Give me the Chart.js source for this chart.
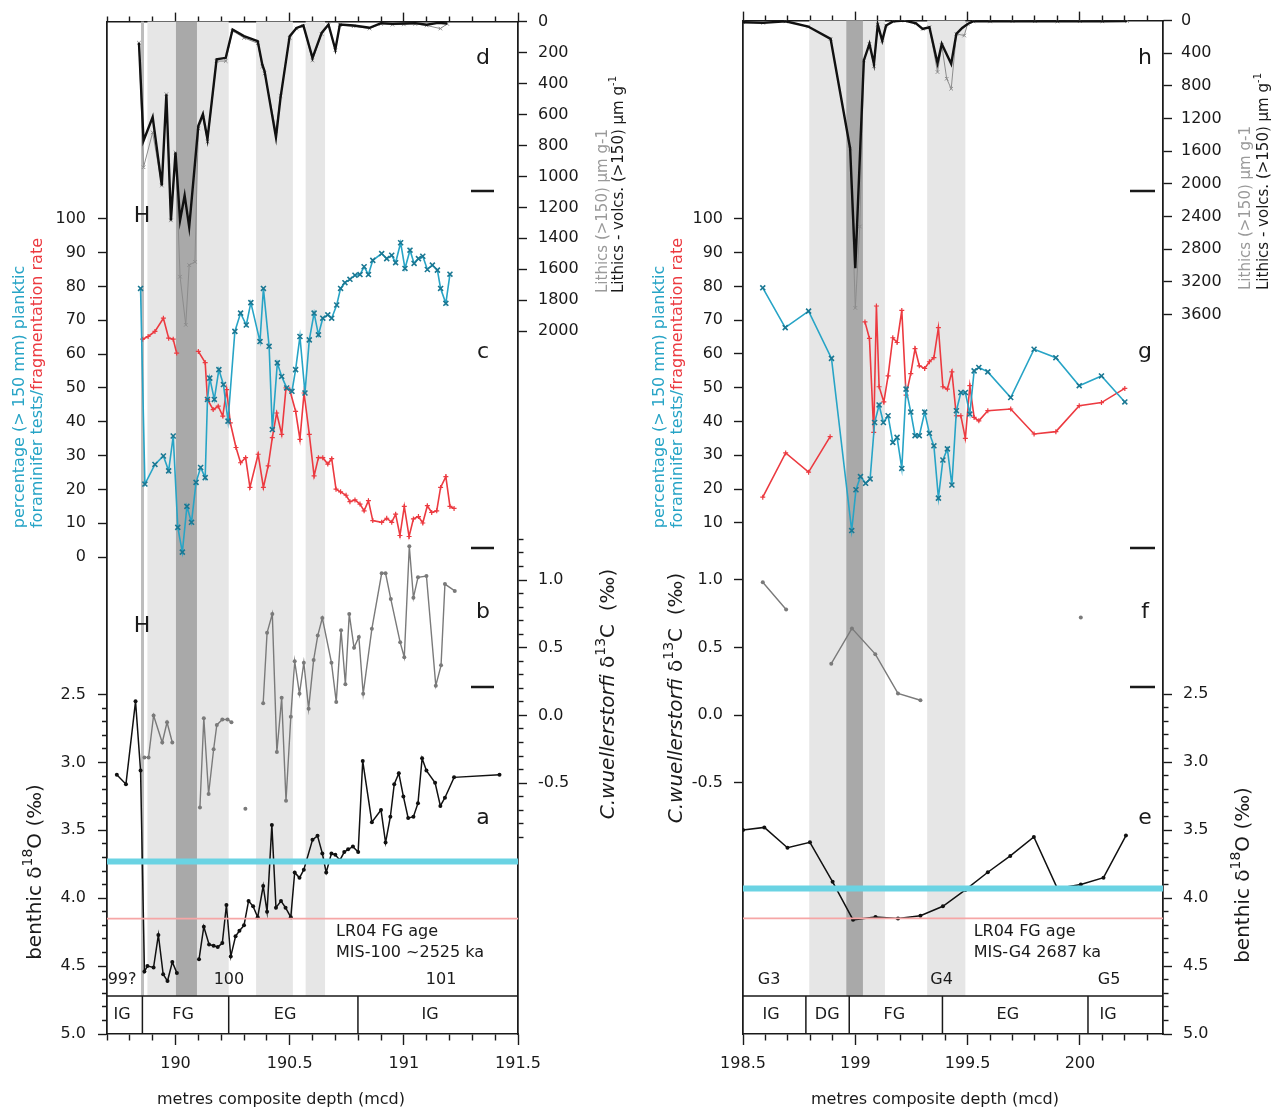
<!DOCTYPE html>
<html>
<head>
<meta charset="utf-8">
<script src="https://cdn.jsdelivr.net/npm/chart.js@4.4.1/dist/chart.umd.min.js"></script>
<style>
  html, body { margin: 0; padding: 0; background: #fff; }
  #wrap { position: relative; width: 1283px; height: 1112px; }
  canvas { position: absolute; top: 0; }
  #left { left: 0; }
  #right { left: 640px; }
</style>
</head>
<body>
<div id="wrap">
  <canvas id="left" width="640" height="1112"></canvas>
  <canvas id="right" width="643" height="1112"></canvas>
</div>
<script>
// ---------- MIS-100 section (left) ----------
const lithDepthL = [189.84, 189.86, 189.90, 189.94, 189.96, 189.98, 190.00, 190.02, 190.04, 190.06, 190.10, 190.12, 190.14, 190.18, 190.22, 190.25, 190.30, 190.36, 190.38, 190.39, 190.44, 190.46, 190.50, 190.53, 190.56, 190.60, 190.64, 190.67, 190.70, 190.72, 190.78, 190.85, 190.90, 190.95, 191.00, 191.05, 191.10, 191.15, 191.19]
const lithVolcL = [137, 770, 617, 1059, 469, 1284, 845, 1284, 1123, 1327, 673, 598, 759, 244, 234, 51, 94, 126, 277, 320, 748, 491, 94, 41, 24, 234, 73, 19, 180, 19, 25, 40, 10, 15, 12, 10, 20, 8, 12]
const lithTotalDepthL = [189.84, 189.86, 189.90, 189.94, 189.96, 189.98, 190.00, 190.02, 190.045, 190.06, 190.085, 190.10, 190.12, 190.14, 190.18, 190.22, 190.25, 190.30, 190.36, 190.38, 190.39, 190.44, 190.46, 190.50, 190.53, 190.56, 190.60, 190.64, 190.67, 190.70, 190.72, 190.78, 190.85, 190.90, 190.95, 191.00, 191.05, 191.10, 191.16, 191.19]
const lithTotalL = [137, 941, 716, 1059, 469, 1284, 845, 1648, 1959, 1573, 1552, 690, 620, 775, 255, 255, 60, 105, 140, 290, 335, 705, 480, 105, 45, 30, 250, 80, 25, 185, 22, 30, 45, 15, 20, 18, 15, 25, 45, 15]

const planktDepthL = [189.847, 189.866, 189.91, 189.947, 189.97, 189.99, 190.01, 190.03, 190.05, 190.07, 190.09, 190.11, 190.13, 190.14, 190.15, 190.17, 190.19, 190.21, 190.23, 190.26, 190.285, 190.31, 190.33, 190.37, 190.385, 190.41, 190.424, 190.446, 190.465, 190.487, 190.51, 190.526, 190.545, 190.567, 190.586, 190.607, 190.626, 190.645, 190.667, 190.684, 190.706, 190.723, 190.742, 190.764, 190.786, 190.808, 190.826, 190.845, 190.864, 190.903, 190.925, 190.947, 190.964, 190.986, 191.005, 191.027, 191.045, 191.064, 191.083, 191.103, 191.125, 191.147, 191.161, 191.184, 191.202]
const planktL = [79.4, 21.6, 27.4, 29.9, 25.5, 35.8, 8.8, 1.5, 15.0, 10.3, 22.1, 26.5, 23.5, 46.6, 52.9, 46.6, 55.4, 51.0, 40.2, 66.7, 72.1, 68.6, 75.2, 63.7, 79.4, 62.3, 37.7, 57.4, 53.4, 50.0, 49.0, 55.4, 65.2, 48.5, 64.2, 72.1, 65.7, 70.6, 71.6, 70.6, 74.5, 79.4, 81.1, 82.1, 83.3, 83.5, 85.8, 83.5, 87.7, 89.7, 88.2, 89.2, 87.0, 92.9, 85.3, 90.7, 86.8, 88.2, 88.9, 85.0, 86.3, 84.8, 79.4, 75.0, 83.6]

const fragDepthL = [189.856, 189.88, 189.91, 189.947, 189.97, 189.99, 190.005, 190.05, 190.10, 190.13, 190.14, 190.165, 190.187, 190.207, 190.224, 190.24, 190.265, 190.285, 190.307, 190.326, 190.362, 190.385, 190.406, 190.424, 190.443, 190.465, 190.484, 190.50, 190.526, 190.545, 190.563, 190.586, 190.607, 190.626, 190.645, 190.667, 190.684, 190.703, 190.723, 190.747, 190.764, 190.786, 190.808, 190.826, 190.845, 190.864, 190.903, 190.925, 190.947, 190.964, 190.983, 191.002, 191.023, 191.042, 191.064, 191.083, 191.103, 191.122, 191.144, 191.161, 191.184, 191.202, 191.22]
const fragL = [64.4, 65.2, 66.7, 70.6, 64.7, 64.4, 60.3, null, 60.8, 57.5, 46.6, 43.6, 44.6, 41.7, 49.5, 39.7, 32.4, 27.9, 29.4, 20.6, 30.4, 20.6, 27.0, 35.3, 42.6, 36.3, 50.0, 49.5, 43.1, 34.8, 48.5, 36.3, 24.0, 29.4, 29.4, 27.5, 29.1, 20.1, 19.3, 18.3, 16.4, 16.9, 15.7, 13.7, 16.7, 10.8, 10.3, 11.5, 10.3, 12.7, 6.4, 15.0, 6.1, 11.3, 12.0, 10.1, 15.2, 13.2, 13.7, 20.6, 23.8, 15.0, 14.4]

const c13DepthL = [189.864, 189.882, 189.904, 189.942, 189.963, 189.986, 190.05, 190.107, 190.124, 190.145, 190.167, 190.181, 190.205, 190.228, 190.245, 190.27, 190.306, 190.34, 190.384, 190.401, 190.424, 190.444, 190.465, 190.484, 190.505, 190.522, 190.543, 190.562, 190.583, 190.605, 190.623, 190.643, 190.683, 190.704, 190.725, 190.744, 190.761, 190.782, 190.803, 190.822, 190.86, 190.903, 190.92, 190.943, 190.984, 191.002, 191.024, 191.042, 191.062, 191.099, 191.14, 191.163, 191.18, 191.223]
const c13L = [-0.31, -0.31, 0.0, -0.2, -0.05, -0.2, null, -0.68, -0.02, -0.58, -0.25, -0.07, -0.03, -0.03, -0.05, null, -0.69, null, 0.09, 0.61, 0.75, -0.27, 0.13, -0.63, -0.01, 0.40, 0.16, 0.39, 0.05, 0.41, 0.59, 0.72, 0.39, 0.10, 0.63, 0.23, 0.75, 0.50, 0.58, 0.16, 0.64, 1.05, 1.05, 0.86, 0.54, 0.43, 1.25, 0.87, 1.02, 1.03, 0.22, 0.37, 0.97, 0.92]

const o18DepthL = [189.743, 189.783, 189.825, 189.847, 189.864, 189.877, 189.904, 189.925, 189.946, 189.965, 189.986, 190.006, 190.05, 190.103, 190.124, 190.147, 190.167, 190.185, 190.205, 190.223, 190.242, 190.263, 190.28, 190.30, 190.32, 190.34, 190.36, 190.384, 190.401, 190.422, 190.44, 190.462, 190.482, 190.505, 190.522, 190.543, 190.562, 190.60, 190.622, 190.643, 190.66, 190.683, 190.70, 190.72, 190.739, 190.756, 190.777, 190.80, 190.82, 190.86, 190.90, 190.92, 190.941, 190.958, 190.978, 190.998, 191.019, 191.042, 191.062, 191.08, 191.099, 191.137, 191.16, 191.18, 191.22, 191.419]
const o18L = [3.09, 3.16, 2.55, 3.06, 4.54, 4.5, 4.51, 4.27, 4.56, 4.61, 4.47, 4.55, null, 4.45, 4.21, 4.34, 4.35, 4.36, 4.33, 4.05, 4.43, 4.28, 4.24, 4.2, 4.02, 4.06, 4.14, 3.91, 4.1, 3.46, 4.07, 4.02, 4.07, 4.14, 3.81, 3.85, 3.79, 3.57, 3.54, 3.67, 3.81, 3.67, 3.68, 3.72, 3.66, 3.64, 3.62, 3.66, 2.99, 3.44, 3.35, 3.59, 3.4, 3.16, 3.08, 3.25, 3.41, 3.4, 3.3, 2.97, 3.06, 3.15, 3.32, 3.26, 3.11, 3.09]

const cyanLevelL = 3.73
const redLevelL = 4.15
const phaseEdgesL = [189.855, 190.233, 190.799]
const phaseNamesL = ['IG', 'FG', 'EG', 'IG']
const phaseLabelDepthL = [189.766, 190.033, 190.48, 191.115]
const misNamesL = ['99?', '100', '101']
const misDepthL = [189.766, 190.234, 191.163]
const lightBandsL = [[189.877, 190.233], [190.353, 190.514], [190.570, 190.655]]
const darkBandsL = [[190.002, 190.094]]
const hLineL = [189.849, 189.862]

// ---------- MIS-G4 section (right) ----------
const lithDepthR = [198.50, 198.59, 198.69, 198.79, 198.89, 198.977, 199.00, 199.038, 199.063, 199.083, 199.10, 199.12, 199.137, 199.17, 199.22, 199.27, 199.30, 199.33, 199.366, 199.385, 199.427, 199.45, 199.476, 199.50, 199.526, 199.6, 199.7, 199.8, 199.9, 200.0, 200.1, 200.21]
const lithVolcR = [20, 28, 8, 73, 224, 1566, 3031, 488, 285, 529, 49, 244, 61, 8, 0, 33, 102, 81, 521, 285, 529, 163, 90, 41, 8, 10, 5, 8, 10, 5, 8, 5]
const lithTotalDepthR = [198.50, 198.59, 198.69, 198.79, 198.89, 198.977, 199.00, 199.02, 199.038, 199.063, 199.083, 199.10, 199.12, 199.137, 199.17, 199.22, 199.27, 199.30, 199.33, 199.366, 199.385, 199.407, 199.427, 199.45, 199.485, 199.50, 199.526, 199.6, 199.7, 199.8, 199.9, 200.0, 200.1, 200.21]
const lithTotalR = [20, 28, 8, 73, 224, 1566, 3519, 2522, 488, 285, 560, 49, 244, 61, 8, 0, 33, 102, 81, 630, 300, 712, 834, 163, 183, 41, 8, 10, 5, 8, 10, 5, 8, 5]

const planktDepthR = [198.588, 198.688, 198.792, 198.894, 198.984, 199.003, 199.023, 199.046, 199.066, 199.086, 199.106, 199.125, 199.146, 199.167, 199.186, 199.207, 199.226, 199.247, 199.266, 199.285, 199.309, 199.33, 199.35, 199.37, 199.39, 199.41, 199.43, 199.45, 199.47, 199.49, 199.51, 199.529, 199.55, 199.59, 199.692, 199.796, 199.893, 199.997, 200.096, 200.2]
const planktR = [79.6, 67.8, 72.7, 58.7, 7.7, 19.8, 23.7, 21.7, 23.0, 39.7, 44.9, 39.7, 41.7, 33.8, 35.3, 26.1, 49.6, 42.8, 35.8, 35.8, 42.8, 36.5, 32.8, 17.3, 28.6, 31.9, 21.2, 43.2, 48.6, 48.6, 42.2, 55.0, 56.0, 54.7, 47.1, 61.4, 58.9, 50.6, 53.5, 45.8]

const fragDepthR = [198.588, 198.69, 198.792, 198.888, 198.96, 199.043, 199.063, 199.082, 199.094, 199.106, 199.127, 199.146, 199.167, 199.186, 199.207, 199.226, 199.247, 199.266, 199.285, 199.309, 199.33, 199.35, 199.37, 199.39, 199.41, 199.43, 199.45, 199.47, 199.49, 199.51, 199.529, 199.55, 199.59, 199.692, 199.796, 199.893, 199.997, 200.096, 200.2]
const fragR = [17.6, 30.7, 25.0, 35.5, null, 69.5, 64.6, 36.8, 74.2, 50.3, 45.8, 53.5, 64.8, 63.4, 72.9, 47.8, 54.2, 61.6, 56.5, 55.7, 57.7, 58.9, 67.8, 50.3, 49.6, 54.7, 41.7, 41.7, 35.0, 50.6, 41.2, 40.2, 43.2, 43.7, 36.3, 37.0, 44.7, 45.6, 49.8]

const c13DepthR = [198.588, 198.692, 198.79, 198.893, 198.985, 199.089, 199.19, 199.29, 199.6, 200.004]
const c13R = [0.98, 0.78, null, 0.38, 0.64, 0.45, 0.16, 0.11, null, 0.72]

const o18DepthR = [198.5, 198.595, 198.698, 198.798, 198.899, 198.99, 199.09, 199.19, 199.29, 199.39, 199.49, 199.59, 199.69, 199.795, 199.9, 200.004, 200.105, 200.205]
const o18R = [3.5, 3.48, 3.63, 3.59, 3.88, 4.16, 4.14, 4.15, 4.13, 4.06, 3.94, 3.81, 3.69, 3.55, 3.93, 3.9, 3.85, 3.54]

const cyanLevelR = 3.93
const redLevelR = 4.15
const phaseEdgesR = [198.78, 198.973, 199.388, 200.036]
const phaseNamesR = ['IG', 'DG', 'FG', 'EG', 'IG']
const phaseLabelDepthR = [198.625, 198.875, 199.174, 199.679, 200.125]
const misNamesR = ['G3', 'G4', 'G5']
const misDepthR = [198.616, 199.384, 200.13]
const lightBandsR = [[198.795, 199.132], [199.32, 199.49]]
const darkBandsR = [[198.96, 199.034]]

// ---------- styling / layout ----------
const FONT = "'DejaVu Sans', Verdana, sans-serif"
const INK = '#1a1a1a'
const CYAN = '#27a4c6'
const CYAN_MARK = '#1b7893'
const RED = '#ec3a40'
const LITH_GRAY = '#8c8c8c'
const C13_GRAY = '#7a7a7a'
const TOP = 17
const BOTTOM = 1034
const CANVAS_H = 1112
const PHASE_TOP = 4.72   // d18O value where the phase row starts

Chart.defaults.font.family = FONT
Chart.defaults.font.size = 16
Chart.defaults.color = INK

function seq(from, to, step) {
	const out = []
	const n = Math.round((to - from) / step)
	for (let i = 0; i <= n; i++) out.push(Math.round((from + i * step) * 1000) / 1000)
	return out
}
function pts(xs, ys) {
	return xs.map((x, i) => ({x: x, y: ys[i]}))
}
const isHalf = v => Math.abs(v * 2 - Math.round(v * 2)) < 1e-6
const fmt = v => String(Math.round(v * 100) / 100)

// value range of an axis so that v1 sits at pixel y1 and v2 at y2
function axisRange(v1, y1, v2, y2) {
	const k = (v2 - v1) / (y2 - y1)
	const vTop = v1 + (TOP - y1) * k
	const vBot = v1 + (BOTTOM - y1) * k
	return vTop < vBot ? {min: vTop, max: vBot, reverse: true} : {min: vBot, max: vTop, reverse: false}
}

function yScale(o) {
	const r = axisRange(...o.anchor)
	const tl = 9, minor = 5
	const dash = o.position === 'left' ? [0, tl - minor, minor, 100] : [minor, 100]
	return {
		type: 'linear', position: o.position, weight: o.weight, bounds: 'data',
		min: r.min, max: r.max, reverse: r.reverse,
		border: {display: true, color: INK, width: 1.5},
		grid: {
			drawOnChartArea: false, drawTicks: true, tickLength: tl, tickWidth: 1.4, tickColor: INK,
			tickBorderDash: c => (c.tick && o.label(c.tick.value) === '' ? dash : []),
		},
		ticks: {autoSkip: false, padding: o.pad, color: INK, font: {size: 16}, callback: v => o.label(v)},
		afterBuildTicks: s => { s.ticks = o.ticks.map(v => ({value: v})) },
		afterFit: s => { s.width = o.width },
	}
}

function xScale(o) {
	const top = o.position === 'top'
	const tl = top ? 9 : 11
	const minor = top ? 5 : 6
	const dash = top ? [0, tl - minor, minor, 100] : [minor, 100]
	return {
		type: 'linear', position: o.position, bounds: 'data', min: o.min, max: o.max,
		border: {display: true, color: INK, width: 1.5},
		grid: {
			drawOnChartArea: false, drawTicks: true, tickLength: tl, tickWidth: 1.4, tickColor: INK,
			tickBorderDash: c => (c.tick && !isHalf(c.tick.value) ? dash : []),
		},
		ticks: {
			display: !top, autoSkip: false, maxRotation: 0, padding: 9, color: INK, font: {size: 16},
			callback: v => (isHalf(v) && v >= o.firstLabel ? fmt(v) : ''),
		},
		afterBuildTicks: s => { s.ticks = seq(o.min, o.tickEnd, 0.1).map(v => ({value: v})) },
		afterFit: s => { s.height = top ? TOP : CANVAS_H - BOTTOM },
	}
}

function lineSet(label, data, yAxisID, style) {
	return Object.assign({
		label: label, data: data, yAxisID: yAxisID, xAxisID: 'x',
		fill: false, tension: 0, spanGaps: false, pointRadius: 0, pointHoverRadius: 0,
	}, style)
}

function levelSet(label, xMin, xMax, level, yAxisID, color, width) {
	return lineSet(label, [{x: xMin, y: level}, {x: xMax, y: level}], yAxisID,
		{borderColor: color, borderWidth: width, order: 0})
}

// text with coloured / italic / superscript runs
function richText(ctx, parts, x, y, size, align, rotate) {
	ctx.save()
	ctx.translate(x, y)
	if (rotate) ctx.rotate(-Math.PI / 2)
	const fontFor = p => `${p.italic ? 'italic ' : ''}${p.sup ? Math.round(size * 0.68) : size}px ${FONT}`
	let total = 0
	for (const p of parts) { ctx.font = fontFor(p); total += ctx.measureText(p.t).width }
	let cx = align === 'center' ? -total / 2 : align === 'right' ? -total : 0
	ctx.textBaseline = 'middle'
	ctx.textAlign = 'left'
	for (const p of parts) {
		ctx.font = fontFor(p)
		ctx.fillStyle = p.color || INK
		ctx.fillText(p.t, cx, p.sup ? -size * 0.38 : 0)
		cx += ctx.measureText(p.t).width
	}
	ctx.restore()
}

function decor(o) {
	return {
		id: 'decor',
		// the zero-width axes share the border with a wider one; widen their box so labels are not clipped
		afterLayout(chart) {
			o.innerAxes.forEach(id => {
				const s = chart.scales[id]
				if (s.options.position === 'left') { s.left = 0 } else { s.right = chart.width }
				s.width = s.right - s.left
			})
		},
		beforeDatasetsDraw(chart) {
			const {ctx, chartArea: a, scales} = chart
			const x = scales.x
			const bottom = scales[o.o18Axis].getPixelForValue(PHASE_TOP)
			ctx.save()
			const band = (d0, d1, color) => {
				const x0 = x.getPixelForValue(d0), x1 = x.getPixelForValue(d1)
				ctx.fillStyle = color
				ctx.fillRect(x0, a.top, x1 - x0, bottom - a.top)
			}
			o.lightBands.forEach(b => band(b[0], b[1], '#e6e6e6'))
			o.darkBands.forEach(b => band(b[0], b[1], '#a9a9a9'))
			if (o.hLine) band(o.hLine[0], o.hLine[1], '#bdbdbd')
			ctx.restore()
		},
		afterDatasetsDraw(chart) {
			const {ctx, chartArea: a, scales} = chart
			const x = scales.x, yO = scales[o.o18Axis]
			const rowTop = yO.getPixelForValue(PHASE_TOP)
			ctx.save()
			ctx.strokeStyle = INK
			ctx.lineWidth = 1.5
			ctx.beginPath()
			ctx.moveTo(a.left, rowTop)
			ctx.lineTo(a.right, rowTop)
			o.phaseEdges.forEach(d => {
				const px = x.getPixelForValue(d)
				ctx.moveTo(px, rowTop)
				ctx.lineTo(px, a.bottom)
			})
			ctx.stroke()
			ctx.fillStyle = INK
			ctx.font = `16px ${FONT}`
			ctx.textAlign = 'center'
			ctx.textBaseline = 'middle'
			const rowMid = (rowTop + a.bottom) / 2
			o.phaseNames.forEach((t, i) => ctx.fillText(t, x.getPixelForValue(o.phaseLabelDepth[i]), rowMid))
			o.misNames.forEach((t, i) => ctx.fillText(t, x.getPixelForValue(o.misDepth[i]), yO.getPixelForValue(4.6)))
			ctx.textAlign = 'left'
			ctx.fillText('LR04 FG age', x.getPixelForValue(o.lr04Depth), yO.getPixelForValue(4.25))
			ctx.fillText(o.lr04Text, x.getPixelForValue(o.lr04Depth), yO.getPixelForValue(4.4))
			ctx.restore()
		},
		afterDraw(chart) {
			const ctx = chart.ctx
			ctx.save()
			ctx.fillStyle = INK
			ctx.textAlign = 'center'
			ctx.textBaseline = 'middle'
			ctx.font = `22px ${FONT}`
			o.letters.forEach(l => ctx.fillText(l[0], l[1], l[2]))
			;(o.hMarks || []).forEach(h => ctx.fillText('H', h[0], h[1]))
			ctx.strokeStyle = INK
			ctx.lineWidth = 2.5
			ctx.beginPath()
			o.dashes.forEach(d => { ctx.moveTo(d[0], d[2]); ctx.lineTo(d[1], d[2]) })
			ctx.stroke()
			ctx.restore()

			const t = o.titles
			richText(ctx, [{t: 'percentage (> 150 mm) planktic', color: CYAN}], t.pct1[0], t.pct1[1], 16, 'center', true)
			richText(ctx, [{t: 'foraminifer tests/', color: CYAN}, {t: 'fragmentation rate', color: RED}], t.pct2[0], t.pct2[1], 16, 'center', true)
			richText(ctx, [{t: 'benthic δ'}, {t: '18', sup: true}, {t: 'O (‰)'}], t.o18[0], t.o18[1], 20, 'center', true)
			richText(ctx, [{t: 'C.wuellerstorfi', italic: true}, {t: ' δ'}, {t: '13', sup: true}, {t: 'C  (‰)'}], t.c13[0], t.c13[1], 20, 'center', true)
			richText(ctx, [{t: 'Lithics (>150) µm g-1', color: '#9a9a9a'}], t.lith1[0], t.lith1[1], 15, 'left', true)
			richText(ctx, [{t: 'Lithics - volcs. (>150) µm g'}, {t: '-1', sup: true}], t.lith2[0], t.lith2[1], 15, 'left', true)
			richText(ctx, [{t: 'metres composite depth (mcd)'}], t.depth[0], t.depth[1], 16, 'center', false)
		},
	}
}

function buildChart(id, scales, datasets, plugin) {
	return new Chart(document.getElementById(id), {
		type: 'line',
		data: {datasets: datasets},
		options: {
			responsive: false, animation: false, devicePixelRatio: 1,
			layout: {padding: 0},
			events: [],
			plugins: {legend: {display: false}, tooltip: {enabled: false}},
			scales: scales,
		},
		plugins: [plugin],
	})
}

function sectionDatasets(s) {
	return [
		levelSet('cyan level', s.xMin, s.xMax, s.cyanLevel, s.o18Axis, '#6ad3e3', 6),
		levelSet('LR04 level', s.xMin, s.xMax, s.redLevel, s.o18Axis, '#f6a6a6', 1.8),
		lineSet('Lithics - volcs.', pts(s.lithDepth, s.lithVolc), s.lithAxis,
			{borderColor: '#111', borderWidth: 2.4, order: 1}),
		lineSet('d18O', pts(s.o18Depth, s.o18), s.o18Axis,
			{borderColor: '#111', borderWidth: 1.5, pointRadius: 2, pointBackgroundColor: '#111', pointBorderWidth: 0, order: 2}),
		lineSet('planktic %', pts(s.planktDepth, s.plankt), s.pctAxis,
			{borderColor: CYAN, borderWidth: 1.6, pointStyle: 'crossRot', pointRadius: 3.5,
				pointBorderColor: CYAN_MARK, pointBorderWidth: 1.6, order: 3}),
		lineSet('fragmentation', pts(s.fragDepth, s.frag), s.pctAxis,
			{borderColor: RED, borderWidth: 1.6, pointStyle: 'cross', pointRadius: 2.5,
				pointBorderColor: RED, pointBorderWidth: 1.2, order: 4}),
		lineSet('d13C', pts(s.c13Depth, s.c13), s.c13Axis,
			{borderColor: C13_GRAY, borderWidth: 1.4, pointRadius: 2, pointBackgroundColor: C13_GRAY, pointBorderWidth: 0, order: 5}),
		lineSet('Lithics', pts(s.lithTotalDepth, s.lithTotal), s.lithAxis,
			{borderColor: LITH_GRAY, borderWidth: 1, pointStyle: 'crossRot', pointRadius: 2.5,
				pointBorderColor: LITH_GRAY, pointBorderWidth: 1, order: 6}),
	]
}

// ----- left chart -----
const leftScales = {
	x: xScale({position: 'bottom', min: 189.7, max: 191.5, tickEnd: 191.5, firstLabel: 190}),
	xTop: xScale({position: 'top', min: 189.7, max: 191.5, tickEnd: 191.5, firstLabel: 190}),
	yC: yScale({position: 'left', weight: 1, width: 107, pad: 12, anchor: [100, 215, 0, 555],
		ticks: seq(0, 100, 10), label: fmt}),
	yA: yScale({position: 'left', weight: 0, width: 0, pad: 12, anchor: [2.5, 693, 5.0, 1034],
		ticks: seq(2.5, 5.0, 0.1), label: v => (isHalf(v) ? v.toFixed(1) : '')}),
	yD: yScale({position: 'right', weight: 0, width: 0, pad: 11, anchor: [0, 17, 2000, 328],
		ticks: seq(0, 2000, 200), label: fmt}),
	yB: yScale({position: 'right', weight: 1, width: 640 - 518, pad: 11, anchor: [1.0, 578, 0, 714],
		ticks: seq(-0.9, 1.3, 0.1), label: v => (isHalf(v) ? v.toFixed(1) : '')}),
}
buildChart('left', leftScales, sectionDatasets({
	xMin: 189.7, xMax: 191.5, cyanLevel: cyanLevelL, redLevel: redLevelL,
	o18Axis: 'yA', lithAxis: 'yD', pctAxis: 'yC', c13Axis: 'yB',
	lithDepth: lithDepthL, lithVolc: lithVolcL, lithTotalDepth: lithTotalDepthL, lithTotal: lithTotalL,
	planktDepth: planktDepthL, plankt: planktL, fragDepth: fragDepthL, frag: fragL,
	c13Depth: c13DepthL, c13: c13L, o18Depth: o18DepthL, o18: o18L,
}), decor({
	innerAxes: ['yA', 'yD'],
	o18Axis: 'yA', lightBands: lightBandsL, darkBands: darkBandsL, hLine: hLineL,
	phaseEdges: phaseEdgesL, phaseNames: phaseNamesL, phaseLabelDepth: phaseLabelDepthL,
	misNames: misNamesL, misDepth: misDepthL, lr04Depth: 190.703, lr04Text: 'MIS-100 ~2525 ka',
	letters: [['d', 483, 58], ['c', 483, 352], ['b', 483, 612], ['a', 483, 818]],
	hMarks: [[142, 216], [142, 626]],
	dashes: [[471, 494, 191], [471, 494, 548], [471, 494, 687]],
	titles: {pct1: [20, 397], pct2: [38, 383], o18: [36, 872], c13: [609, 694],
		lith1: [603, 293], lith2: [619, 293], depth: [281, 1100]},
}))

// ----- right chart -----
const rightScales = {
	x: xScale({position: 'bottom', min: 198.5, max: 200.37, tickEnd: 200.3, firstLabel: 198.5}),
	xTop: xScale({position: 'top', min: 198.5, max: 200.37, tickEnd: 200.3, firstLabel: 198.5}),
	yG: yScale({position: 'left', weight: 1, width: 103, pad: 11, anchor: [100, 216, 10, 521],
		ticks: seq(10, 100, 10), label: fmt}),
	yF: yScale({position: 'left', weight: 0, width: 0, pad: 11, anchor: [1.0, 578, 0, 714],
		ticks: [-0.5, 0, 0.5, 1.0], label: v => v.toFixed(1)}),
	yH: yScale({position: 'right', weight: 0, width: 0, pad: 9, anchor: [0, 17, 3600, 312],
		ticks: seq(0, 3600, 400), label: fmt}),
	yE: yScale({position: 'right', weight: 1, width: 643 - 523, pad: 11, anchor: [2.5, 693, 5.0, 1034],
		ticks: seq(2.5, 5.0, 0.1), label: v => (isHalf(v) ? v.toFixed(1) : '')}),
}
buildChart('right', rightScales, sectionDatasets({
	xMin: 198.5, xMax: 200.37, cyanLevel: cyanLevelR, redLevel: redLevelR,
	o18Axis: 'yE', lithAxis: 'yH', pctAxis: 'yG', c13Axis: 'yF',
	lithDepth: lithDepthR, lithVolc: lithVolcR, lithTotalDepth: lithTotalDepthR, lithTotal: lithTotalR,
	planktDepth: planktDepthR, plankt: planktR, fragDepth: fragDepthR, frag: fragR,
	c13Depth: c13DepthR, c13: c13R, o18Depth: o18DepthR, o18: o18R,
}), decor({
	innerAxes: ['yF', 'yH'],
	o18Axis: 'yE', lightBands: lightBandsR, darkBands: darkBandsR,
	phaseEdges: phaseEdgesR, phaseNames: phaseNamesR, phaseLabelDepth: phaseLabelDepthR,
	misNames: misNamesR, misDepth: misDepthR, lr04Depth: 199.527, lr04Text: 'MIS-G4 2687 ka',
	letters: [['h', 505, 58], ['g', 505, 352], ['f', 505, 612], ['e', 505, 818]],
	dashes: [[490, 515, 191], [490, 515, 548], [490, 515, 687]],
	titles: {pct1: [20, 397], pct2: [38, 383], o18: [604, 875], c13: [37, 698],
		lith1: [606, 290], lith2: [624, 290], depth: [295, 1100]},
}))
</script>
</body>
</html>
